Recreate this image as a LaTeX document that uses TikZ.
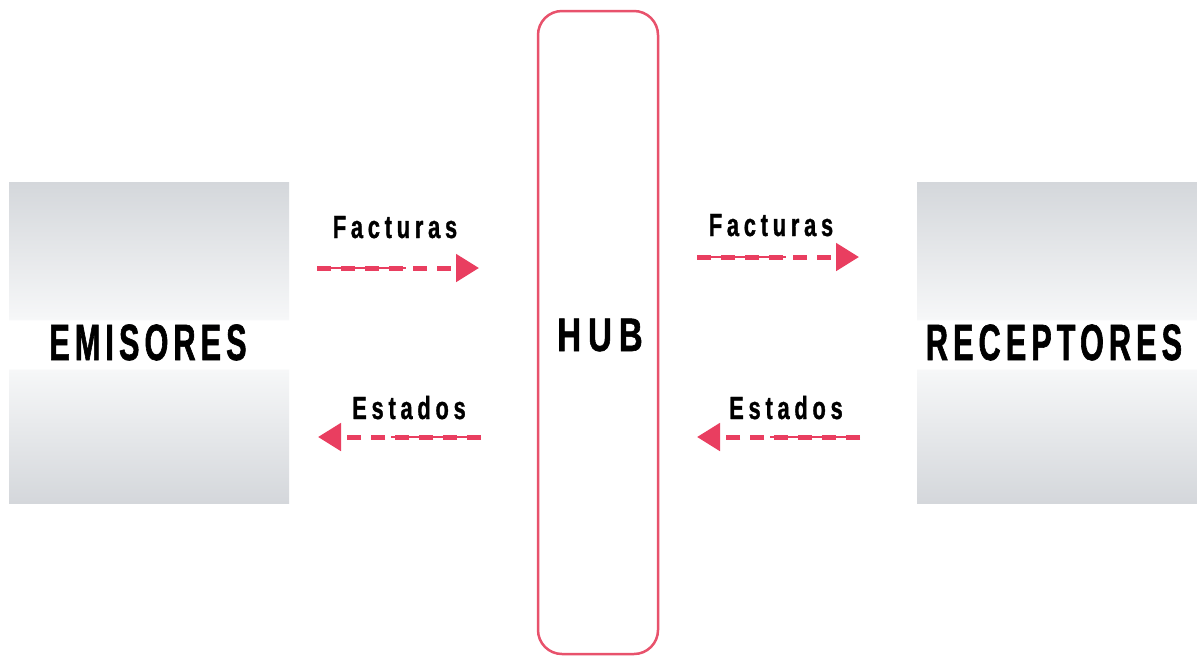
\documentclass[tikz,border=0pt]{standalone}
\usepackage{fontspec}
\usetikzlibrary{arrows.meta,calc}
\newfontfamily\bigfont{Liberation Sans}[UprightFont={* Bold},FakeStretch=0.6,LetterSpace=10,FakeBold=1.2]
\newfontfamily\hubfont{Liberation Sans}[UprightFont={* Bold},FakeStretch=0.7,LetterSpace=15,FakeBold=1.2]
\newfontfamily\smallfont{Liberation Sans}[UprightFont={* Bold},FakeStretch=0.68,LetterSpace=15,FakeBold=1]
\definecolor{arr}{RGB}{233,62,96}
\definecolor{hubc}{RGB}{232,82,108}
\definecolor{gtop}{RGB}{212,215,219}
\definecolor{glight}{RGB}{246,247,248}
\pgfdeclareverticalshading{boxshade}{100bp}{color(0bp)=(gtop); color(25bp)=(gtop); color(45.7bp)=(glight); color(46bp)=(white); color(53.4bp)=(white); color(53.7bp)=(glight); color(75bp)=(gtop); color(100bp)=(gtop)}
\begin{document}
\begin{tikzpicture}[x=1pt,y=-1pt,
  party/.style={shading=boxshade, draw=none},
  big/.style={inner sep=0pt, anchor=base, font=\bigfont\fontsize{51}{51}\selectfont},
  hubtxt/.style={inner sep=0pt, anchor=base, font=\hubfont\fontsize{47}{47}\selectfont},
  lbl/.style={inner sep=0pt, anchor=base, font=\smallfont\fontsize{32}{32}\selectfont},
  flow/.style={draw=arr, line width=5pt, dash pattern=on 14pt off 10pt, -{Triangle[length=23pt,width=27pt,fill=arr]}},
  flowthin/.style={draw=arr, line width=1.5pt}]
\useasboundingbox (0,0) rectangle (1197,657);
\fill[white] (0,0) rectangle (1197,657);
% boxes
\path[party] (9,182) rectangle (289,503);
\path[party] (917,182) rectangle (1197,503);
\node[big] (emisores) at (148,360) {EMISORES};
\node[big] (receptores) at (1054,360) {RECEPTORES};
% hub
\draw[hubc, line width=2.5pt, rounded corners=24pt] (538,11) rectangle (658,654);
\node[hubtxt] (hub) at (600,351) {HUB};
% arrows: coordinates
\coordinate (f1s) at (317,268); \coordinate (f1e) at (479,268);
\coordinate (f2s) at (697,257); \coordinate (f2e) at (859,257);
\coordinate (e1s) at (481,437); \coordinate (e1e) at (318,437);
\coordinate (e2s) at (860,437); \coordinate (e2e) at (697,437);
\draw[flowthin] (f1s) -- ($(f1s)!0.55!(f1e)$);
\draw[flowthin] (f2s) -- ($(f2s)!0.55!(f2e)$);
\draw[flowthin] (e1s) -- ($(e1s)!0.55!(e1e)$);
\draw[flowthin] (e2s) -- ($(e2s)!0.55!(e2e)$);
\draw[flow] (f1s) -- (f1e);
\draw[flow] (f2s) -- (f2e);
\draw[flow] (e1s) -- (e1e);
\draw[flow] (e2s) -- (e2e);
% labels
\node[lbl] (fac1) at (395,238) {Facturas};
\node[lbl] (fac2) at (771,236) {Facturas};
\node[lbl] (est1) at (409,419) {Estados};
\node[lbl] (est2) at (786,419) {Estados};
\end{tikzpicture}
\end{document}
